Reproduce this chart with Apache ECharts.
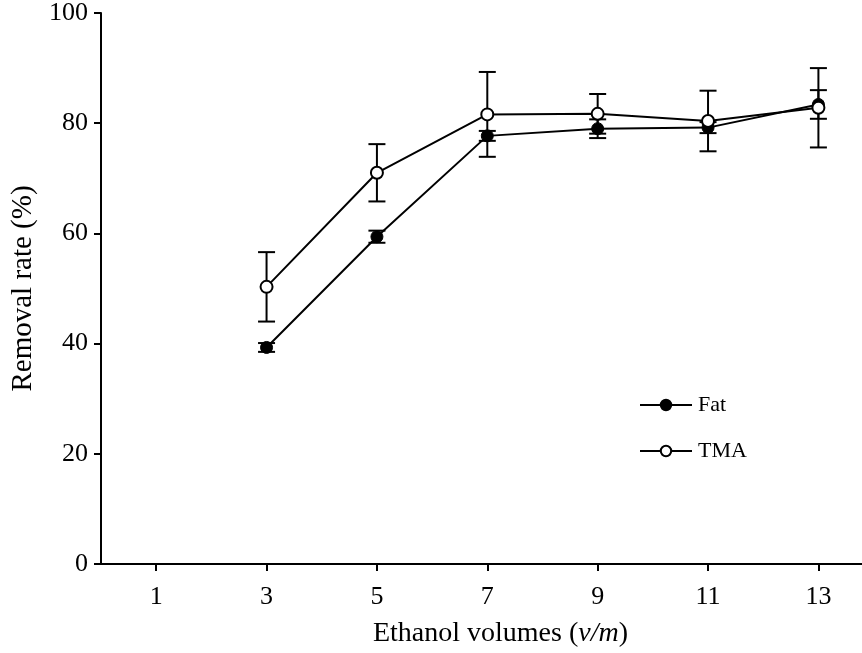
<!DOCTYPE html>
<html>
<head>
<meta charset="utf-8">
<script src="https://cdn.jsdelivr.net/npm/echarts@6/dist/echarts.min.js"></script>
<style>
  html, body { margin: 0; padding: 0; background: #fff; }
  #chart { width: 862px; height: 653px; }
</style>
</head>
<body>
<div id="chart"></div>
<script>
// Ethanol volume (v/m) and removal rates with standard deviations
const volumes = [3, 5, 7, 9, 11, 13];
const fatRate = [39.3, 59.4, 77.7, 79.0, 79.2, 83.4];
const fatErr = [0.8, 1.1, 0.9, 1.7, 1.0, 2.6];
const tmaRate = [50.3, 71.0, 81.6, 81.7, 80.4, 82.8];
const tmaErr = [6.3, 5.2, 7.7, 3.6, 5.5, 7.2];
const xTicks = [1, 3, 5, 7, 9, 11, 13];

const FONT = 'Liberation Serif';

function pairs(xs, ys) { return xs.map((x, i) => [x, ys[i]]); }
function bars(xs, ys, es) { return xs.map((x, i) => [x, ys[i] - es[i], ys[i] + es[i]]); }

// Vertical error bar with horizontal caps
function renderErr(params, api) {
  const x = api.value(0);
  const lo = api.coord([x, api.value(1)]);
  const hi = api.coord([x, api.value(2)]);
  const hw = 8.5;
  const style = { stroke: '#000', lineWidth: 2 };
  return {
    type: 'group',
    children: [
      { type: 'line', shape: { x1: lo[0], y1: lo[1], x2: hi[0], y2: hi[1] }, style },
      { type: 'line', shape: { x1: lo[0] - hw, y1: lo[1], x2: lo[0] + hw, y2: lo[1] }, style },
      { type: 'line', shape: { x1: hi[0] - hw, y1: hi[1], x2: hi[0] + hw, y2: hi[1] }, style }
    ]
  };
}

const chart = echarts.init(document.getElementById('chart'), null, { renderer: 'canvas' });
chart.setOption({
  animation: false,
  backgroundColor: '#fff',
  grid: { left: 101, right: 0, top: 13, bottom: 89, containLabel: false },
  xAxis: {
    type: 'value',
    min: 0,
    max: 13.79,
    name: 'Ethanol volumes ({i|v/m})',
    nameLocation: 'middle',
    nameGap: 56,
    nameTextStyle: {
      fontFamily: FONT, fontSize: 28, color: '#000',
      padding: [0, 0, 0, 38],
      rich: { i: { fontFamily: FONT, fontSize: 28, fontStyle: 'italic', color: '#000' } }
    },
    axisLine: { show: true, onZero: false, lineStyle: { color: '#000', width: 2 } },
    axisTick: { show: true, length: 7, customValues: xTicks, lineStyle: { color: '#000', width: 2 } },
    axisLabel: { customValues: xTicks, margin: 20, fontFamily: FONT, fontSize: 26, color: '#000' },
    splitLine: { show: false }
  },
  yAxis: {
    type: 'value',
    min: 0,
    max: 100,
    interval: 20,
    name: 'Removal rate (%)',
    nameLocation: 'middle',
    nameGap: 62,
    nameTextStyle: { fontFamily: FONT, fontSize: 29, color: '#000' },
    axisLine: { show: true, lineStyle: { color: '#000', width: 2 } },
    axisTick: { show: true, length: 7, lineStyle: { color: '#000', width: 2 } },
    axisLabel: { margin: 13, fontFamily: FONT, fontSize: 26, color: '#000' },
    splitLine: { show: false }
  },
  legend: {
    orient: 'vertical',
    left: 634,
    top: 389,
    itemWidth: 52,
    itemHeight: 13,
    itemGap: 24,
    textStyle: { fontFamily: FONT, fontSize: 22, color: '#000', padding: [0, 0, 0, 1] },
    data: ['Fat', 'TMA']
  },
  series: [
    {
      type: 'custom',
      name: 'FatErr',
      renderItem: renderErr,
      data: bars(volumes, fatRate, fatErr),
      z: 1,
      silent: true
    },
    {
      type: 'custom',
      name: 'TMAErr',
      renderItem: renderErr,
      data: bars(volumes, tmaRate, tmaErr),
      z: 1,
      silent: true
    },
    {
      type: 'line',
      name: 'Fat',
      data: pairs(volumes, fatRate),
      symbol: 'circle',
      symbolSize: 12,
      lineStyle: { color: '#000', width: 2 },
      itemStyle: { color: '#000', borderColor: '#000', borderWidth: 1 },
      z: 3
    },
    {
      type: 'line',
      name: 'TMA',
      data: pairs(volumes, tmaRate),
      symbol: 'circle',
      symbolSize: 12,
      lineStyle: { color: '#000', width: 2 },
      itemStyle: { color: '#fff', borderColor: '#000', borderWidth: 2 },
      z: 4
    }
  ]
});
</script>
</body>
</html>
